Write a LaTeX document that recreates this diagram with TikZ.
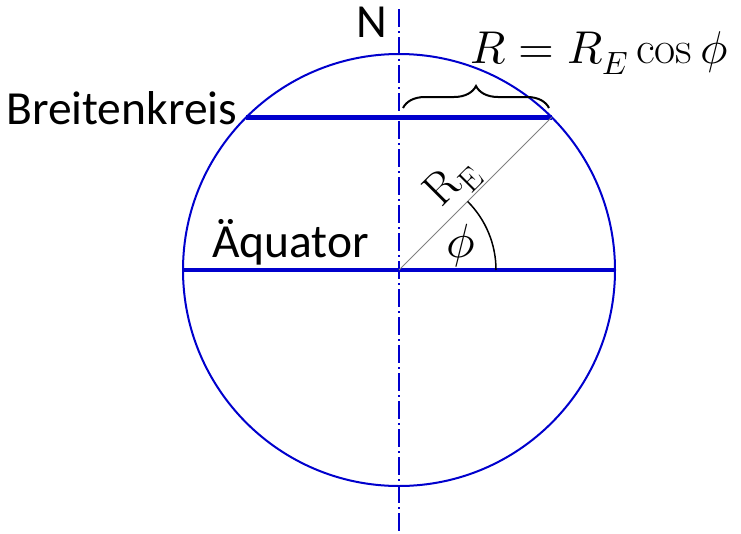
\documentclass[tikz,border=0pt]{standalone}
\usepackage{unicode-math}
\setmathfont{Latin Modern Math}
\newfontfamily\labelfont{Carlito}
\usetikzlibrary{decorations.pathreplacing}
\definecolor{geoblue}{RGB}{0,0,205}
\tikzset{
  sanslbl/.style={font=\labelfont\fontsize{47.5}{56}\selectfont, inner sep=0pt, text=black},
  mathlbl/.style={font=\fontsize{46}{54}\selectfont, inner sep=0pt},
  thinblue/.style={draw=geoblue, line width=2pt},
  axisline/.style={draw=geoblue, line width=2pt, dash pattern=on 18pt off 4pt on 2pt off 4pt},
}
\begin{document}
\begin{tikzpicture}[x=1pt,y=-1pt]
\useasboundingbox (0,0) rectangle (741,533);
\coordinate (O) at (399,270);
\coordinate (Ntop) at (399,9);
\coordinate (Sbot) at (399,533);
\coordinate (EqL) at (183,270);
\coordinate (EqR) at (615,270);
\coordinate (BkL) at (246.3,117.3);
\coordinate (BkR) at (551.7,117.3);
\coordinate (Arc0) at (496,270);
\coordinate (BrL) at (403,108);
\coordinate (BrR) at (549,108);
% circle
\draw[thinblue] (O) circle[radius=216pt];
% axis
\draw[axisline] (Ntop) -- (Sbot);
% equator
\draw[draw=geoblue, line width=3.2pt] (EqL) -- (EqR);
% Breitenkreis
\draw[draw=geoblue, line width=4.5pt] (BkL) -- (BkR);
% radius
\draw[gray, line width=1pt] (O) -- (BkR);
% angle arc
\draw[black, line width=1.5pt] (Arc0) arc[start angle=0, end angle=45, radius=97pt];
% brace
\draw[black, line width=2pt, decorate, decoration={brace, amplitude=22pt}] (BrL) -- (BrR);
% labels
\node[sanslbl, anchor=base west] (N) at (356,37) {N};
\node[sanslbl, anchor=base west] (bk) at (6,124) {Breitenkreis};
\node[sanslbl, anchor=base west] (aq) at (212,257) {Äquator};
\node[mathlbl, anchor=base west] (form) at (470,63) {$R = R_E\cos\phi$};
\node[mathlbl, rotate=45, font=\fontsize{46}{54}\selectfont] (re) at (453,183) {$\mathrm{R}_{\mathrm{E}}$};
\node[mathlbl, font=\fontsize{48}{56}\selectfont] (phi) at (461,246) {$\phi$};
\end{tikzpicture}
\end{document}
